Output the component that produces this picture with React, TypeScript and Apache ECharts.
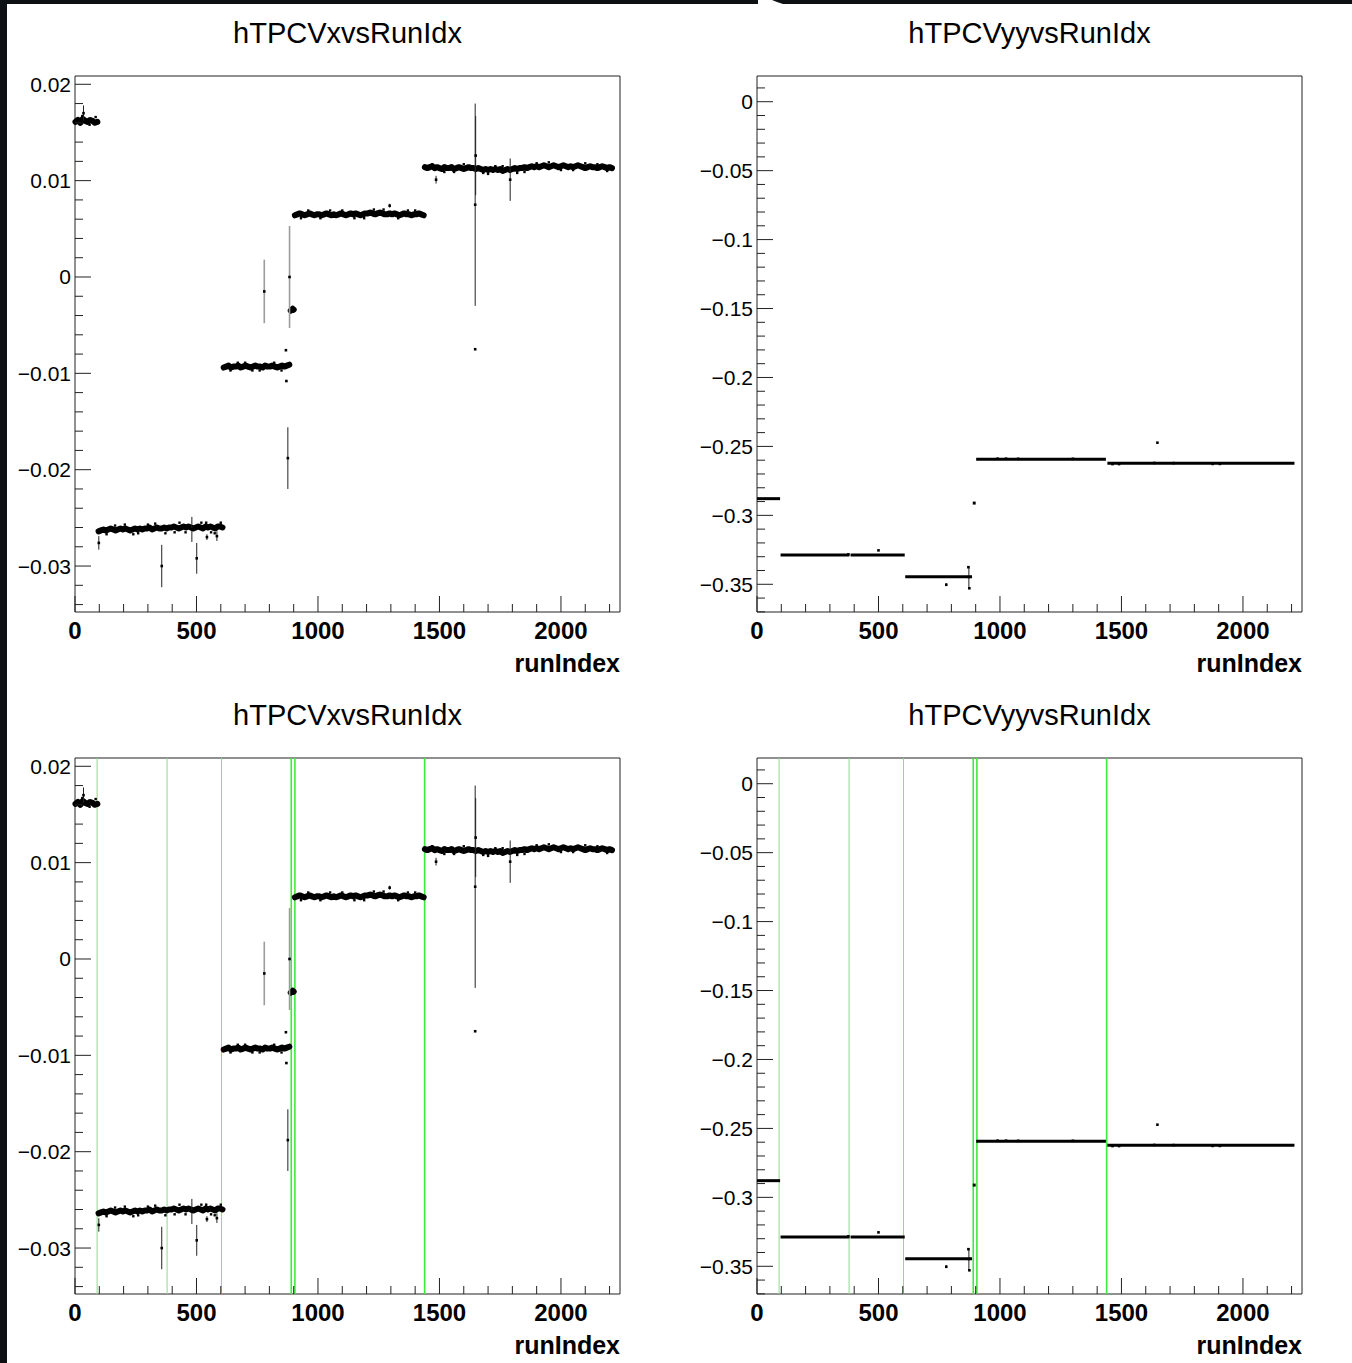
import React, { useEffect, useRef } from "react";
import * as echarts from "echarts";

// ---- axis ranges ----
const RUN_MAX = 2243;
const VX_RANGE = [-0.03477, 0.02086];
const VY_RANGE = [-0.3701, 0.01865];

// ---- tick labels ----
const xMajorTicks = [0, 500, 1000, 1500, 2000];
const xTickLabels = ["0", "500", "1000", "1500", "2000"];
const vxMajorTicks = [-0.03, -0.02, -0.01, 0, 0.01, 0.02];
const vxTickLabels = ["\u22120.03", "\u22120.02", "\u22120.01", "0", "0.01", "0.02"];
const vyMajorTicks = [-0.35, -0.3, -0.25, -0.2, -0.15, -0.1, -0.05, 0];
const vyTickLabels = ["\u22120.35", "\u22120.3", "\u22120.25", "\u22120.2", "\u22120.15", "\u22120.1", "\u22120.05", "0"];

// ---- TPC vertex x per run, in units of 1e-4, one sample every vxBlockStep runs ----
const vxBlockStart = [2, 97, 612, 888, 905, 1440];
const vxBlockStep = [10, 10, 10, 4, 10, 10];
const vxBlockA = [161, 163, 160, 164, 162, 161, 163, 162, 160, 161];
const vxBlockB = [
  -264, -263, -262, -263, -262, -261, -262, -263, -262, -261,
  -262, -261, -262, -263, -262, -261, -262, -261, -262, -261,
  -261, -260, -262, -261, -260, -261, -261, -260, -261, -260,
  -260, -259, -260, -261, -260, -259, -260, -259, -260, -261,
  -260, -259, -260, -261, -259, -260, -259, -260, -261, -259,
  -259, -260,
];
const vxBlockC = [
  -94, -93, -92, -94, -93, -93, -92, -94, -93, -92, -93, -94, -93, -92,
  -93, -93, -94, -92, -93, -93, -92, -93, -94, -93, -92, -93, -92, -91,
];
const vxBlockC2 = [-35, -34, -33, -34];
const vxBlockD = [
  64, 65, 66, 65, 64, 65, 66, 65, 64, 65,
  65, 64, 65, 66, 65, 64, 65, 64, 65, 66,
  65, 64, 65, 66, 65, 66, 65, 64, 65, 66,
  66, 67, 66, 65, 66, 67, 66, 65, 65, 66,
  65, 66, 65, 64, 65, 66, 65, 65, 64, 65,
  65, 66, 65, 64,
];
const vxBlockE = [
  114, 113, 114, 115, 113, 114, 113, 112, 114, 113,
  113, 114, 112, 113, 114, 113, 112, 113, 114, 113,
  113, 112, 113, 112, 111, 112, 111, 112, 111, 112,
  111, 112, 110, 111, 112, 111, 112, 113, 112, 113,
  113, 114, 113, 114, 115, 114, 115, 114, 115, 116,
  115, 114, 115, 116, 115, 114, 115, 116, 115, 114,
  115, 114, 115, 116, 115, 114, 113, 114, 115, 114,
  114, 113, 114, 115, 114, 113, 114, 113,
];
const vxBlocks = [vxBlockA, vxBlockB, vxBlockC, vxBlockC2, vxBlockD, vxBlockE];

// single runs scattered off the vx bands: [run, vx]
const vxStrays = [
  [30, 0.0167], [60, 0.0158], [85, 0.0166], [130, -0.0267], [165, -0.0258],
  [205, -0.0257], [240, -0.0267], [260, -0.0266], [300, -0.0257], [330, -0.0256],
  [372, -0.0266], [410, -0.0265], [430, -0.0255], [455, -0.0265], [520, -0.0255],
  [540, -0.0255], [560, -0.0265], [575, -0.0266], [600, -0.0255], [640, -0.0097],
  [670, -0.0089], [700, -0.0089], [730, -0.0097], [760, -0.0097], [820, -0.0089],
  [850, -0.0097], [930, 0.0061], [960, 0.0069], [1010, 0.0061], [1050, 0.0069],
  [1100, 0.0069], [1150, 0.0061], [1190, 0.0061], [1230, 0.0070], [1270, 0.0070],
  [1330, 0.0061], [1370, 0.0069], [1400, 0.0069], [1470, 0.0117], [1520, 0.0109],
  [1560, 0.0109], [1600, 0.0117], [1680, 0.0108], [1700, 0.0107], [1730, 0.0115],
  [1760, 0.0115], [1820, 0.0108], [1850, 0.0109], [1900, 0.0118], [1950, 0.0119],
  [2000, 0.0111], [2050, 0.0111], [2100, 0.0118], [2150, 0.0117], [2190, 0.0110],
];

// runs with a visible uncertainty: [run, vx, error, lightBar]
const vxErrorPoints = [
  [35, 0.017, 0.0008, 0],
  [98, -0.0276, 0.0007, 0],
  [357, -0.03, 0.0022, 0],
  [481, -0.0262, 0.0013, 0],
  [501, -0.0292, 0.0016, 0],
  [543, -0.027, 0.0003, 0],
  [584, -0.0269, 0.0005, 0],
  [779, -0.0015, 0.0033, 1],
  [868, -0.0076, 0, 0],
  [870, -0.0108, 0, 0],
  [876, -0.0188, 0.0032, 0],
  [883, 0.0, 0.0053, 1],
  [1295, 0.0074, 0.0002, 0],
  [1486, 0.0101, 0.0004, 0],
  [1647, 0.0075, 0.0105, 0],
  [1649, 0.0126, 0.0041, 0],
  [1647, -0.0075, 0, 0],
  [1791, 0.0101, 0.0022, 0],
];

// ---- TPC vertex y: constant per block ----
const vySegStart = [0, 97, 385, 610, 888, 902, 1442];
const vySegEnd = [95, 380, 608, 885, 900, 1436, 2212];
const vySegLevel = [-0.2879, -0.3288, -0.3288, -0.3445, -0.2911, -0.2594, -0.2623];

// [run, vy, error]
const vyPoints = [
  [376, -0.3283, 0], [500, -0.3254, 0], [779, -0.3503, 0.0011],
  [872, -0.3447, 0.0079], [874, -0.3529, 0], [870, -0.3376, 0],
  [990, -0.2589, 0], [1025, -0.2589, 0], [1075, -0.2590, 0], [1300, -0.2590, 0],
  [1463, -0.2628, 0], [1490, -0.2628, 0], [1635, -0.2620, 0], [1715, -0.2621, 0],
  [1875, -0.2627, 0], [1905, -0.2627, 0], [1648, -0.2473, 0],
];

// block boundaries marked on the lower pads
const boundaryRuns = [91, 379, 603, 890, 905, 1439];
const boundaryStrong = [0, 0, 0, 1, 1, 1];

// ---- layout ----
const PLOT_W = 545;
const PLOT_H = 536;
const FONT = "'Liberation Sans', Arial, Helvetica, sans-serif";
const pads = [
  { left: 75, top: 76, kind: "vx", title: "hTPCVxvsRunIdx", marks: false },
  { left: 757, top: 76, kind: "vy", title: "hTPCVyyvsRunIdx", marks: false },
  { left: 75, top: 758, kind: "vx", title: "hTPCVxvsRunIdx", marks: true },
  { left: 757, top: 758, kind: "vy", title: "hTPCVyyvsRunIdx", marks: true },
];

function minorTicks(lo: number, hi: number, step: number, majorEvery: number) {
  const out: number[] = [];
  const a = Math.ceil(lo / step - 1e-9);
  const b = Math.floor(hi / step + 1e-9);
  for (let k = a; k <= b; k++) {
    if (k % majorEvery !== 0) out.push(+(k * step).toFixed(6));
  }
  return out;
}

function errorSeries(on: any, pts: number[][]) {
  return {
    type: "custom",
    ...on,
    z: 6,
    data: pts,
    renderItem: (_: any, api: any) => {
      const x = api.value(0);
      const y = api.value(1);
      const e = api.value(2);
      const light = api.value(3) === 1;
      const c = api.coord([x, y]);
      const children: any[] = [];
      if (e > 0) {
        const hi = api.coord([x, y + e]);
        const lo = api.coord([x, y - e]);
        children.push({
          type: "line",
          shape: { x1: c[0], y1: hi[1], x2: c[0], y2: lo[1] },
          style: { stroke: light ? "#9c9c9c" : "#222", lineWidth: light ? 1.6 : 1 },
        });
      }
      children.push({
        type: "rect",
        shape: { x: c[0] - 1.3, y: c[1] - 1.3, width: 2.6, height: 2.6 },
        style: { fill: "#000" },
      });
      return { type: "group", children };
    },
  };
}

function buildOption() {
  const grid: any[] = [];
  const xAxis: any[] = [];
  const yAxis: any[] = [];
  const series: any[] = [];
  const graphic: any[] = [];

  const axisOff = {
    axisLine: { show: false },
    axisTick: { show: false },
    axisLabel: { show: false },
    splitLine: { show: false },
  };

  pads.forEach((p, i) => {
    const isVx = p.kind === "vx";
    const yr = isVx ? VX_RANGE : VY_RANGE;
    grid.push({
      left: p.left,
      top: p.top,
      width: PLOT_W,
      height: PLOT_H,
      show: true,
      borderColor: "#222",
      borderWidth: 1,
      backgroundColor: "transparent",
    });
    xAxis.push({ type: "value", gridIndex: i, min: 0, max: RUN_MAX, ...axisOff });
    yAxis.push({ type: "value", gridIndex: i, min: yr[0], max: yr[1], ...axisOff });

    const on = { xAxisIndex: i, yAxisIndex: i, silent: true, animation: false };

    // boundary markers
    if (p.marks) {
      series.push({
        type: "custom",
        ...on,
        z: 1,
        data: boundaryRuns.map((r, k) => [r, yr[0], boundaryStrong[k]]),
        renderItem: (_: any, api: any) => {
          const a = api.coord([api.value(0), yr[0]]);
          const b = api.coord([api.value(0), yr[1]]);
          const strong = api.value(2) === 1;
          return {
            type: "line",
            shape: { x1: a[0], y1: a[1], x2: b[0], y2: b[1] },
            style: { stroke: strong ? "#3cec3c" : "#8fd98f", lineWidth: strong ? 1.6 : 1 },
          };
        },
      });
    }

    if (isVx) {
      vxBlocks.forEach((blk, bi) => {
        series.push({
          type: "line",
          ...on,
          z: 3,
          symbol: "none",
          showSymbol: false,
          lineStyle: { color: "#000", width: 6, join: "round", cap: "round" },
          data: blk.map((v, k) => [vxBlockStart[bi] + k * vxBlockStep[bi], v * 1e-4]),
        });
      });
      series.push({
        type: "custom",
        ...on,
        z: 4,
        data: vxStrays,
        renderItem: (_: any, api: any) => {
          const c = api.coord([api.value(0), api.value(1)]);
          return { type: "rect", shape: { x: c[0] - 1.2, y: c[1] - 1.2, width: 2.4, height: 2.4 }, style: { fill: "#000" } };
        },
      });
      series.push(errorSeries(on, vxErrorPoints));
    } else {
      series.push({
        type: "custom",
        ...on,
        z: 3,
        data: vySegStart.map((s, k) => [s, vySegEnd[k], vySegLevel[k]]),
        renderItem: (_: any, api: any) => {
          const a = api.coord([api.value(0), api.value(2)]);
          const b = api.coord([api.value(1), api.value(2)]);
          return {
            type: "line",
            shape: { x1: a[0], y1: a[1], x2: b[0], y2: b[1] },
            style: { stroke: "#000", lineWidth: 3 },
          };
        },
      });
      series.push(errorSeries(on, vyPoints.map((q) => [q[0], q[1], q[2], 0])));
    }

    // y ticks and labels
    const yMaj = isVx ? vxMajorTicks : vyMajorTicks;
    const yLab = isVx ? vxTickLabels : vyTickLabels;
    const yMin = isVx ? minorTicks(yr[0], yr[1], 0.002, 5) : minorTicks(yr[0], yr[1], 0.01, 5);
    series.push({
      type: "custom",
      ...on,
      z: 5,
      data: [
        ...yMaj.map((v, k) => [0, v, 1, k]),
        ...yMin.map((v) => [0, v, 0, -1]),
      ],
      renderItem: (_: any, api: any) => {
        const v = api.value(1);
        const major = api.value(2) === 1;
        const c = api.coord([0, v]);
        const children: any[] = [
          {
            type: "line",
            shape: { x1: c[0], y1: c[1], x2: c[0] + (major ? 16 : 8), y2: c[1] },
            style: { stroke: "#222", lineWidth: 1 },
          },
        ];
        if (major) {
          children.push({
            type: "text",
            x: c[0] - 4,
            y: c[1],
            style: {
              text: yLab[api.value(3)],
              fill: "#000",
              font: `21px ${FONT}`,
              align: "right",
              verticalAlign: "middle",
            },
          });
        }
        return { type: "group", children };
      },
    });

    // x ticks and labels
    const xMin = minorTicks(0, RUN_MAX, 100, 5);
    series.push({
      type: "custom",
      ...on,
      z: 5,
      data: [
        ...xMajorTicks.map((v, k) => [v, yr[0], 1, k]),
        ...xMin.map((v) => [v, yr[0], 0, -1]),
      ],
      renderItem: (_: any, api: any) => {
        const v = api.value(0);
        const major = api.value(2) === 1;
        const c = api.coord([v, yr[0]]);
        const children: any[] = [
          {
            type: "line",
            shape: { x1: c[0], y1: c[1], x2: c[0], y2: c[1] - (major ? 16 : 8) },
            style: { stroke: "#222", lineWidth: 1 },
          },
        ];
        if (major) {
          children.push({
            type: "text",
            x: c[0],
            y: c[1] + 18,
            style: {
              text: xTickLabels[api.value(3)],
              fill: "#000",
              font: `bold 24px ${FONT}`,
              align: "center",
              verticalAlign: "middle",
            },
          });
        }
        return { type: "group", children };
      },
    });

    graphic.push({
      type: "text",
      x: p.left + PLOT_W / 2,
      y: p.top - 43,
      style: { text: p.title, fill: "#000", font: `29px ${FONT}`, align: "center", verticalAlign: "middle" },
    });
    graphic.push({
      type: "text",
      x: p.left + PLOT_W,
      y: p.top + PLOT_H + 51,
      style: { text: "runIndex", fill: "#000", font: `bold 25px ${FONT}`, align: "right", verticalAlign: "middle" },
    });
  });

  // dark window edge along the top and left
  graphic.push({ type: "rect", shape: { x: 0, y: 0, width: 758, height: 4 }, style: { fill: "#0d1114" } });
  graphic.push({
    type: "polygon",
    shape: { points: [[772, 0], [1352, 0], [1352, 4], [783, 4], [777, 2]] },
    style: { fill: "#0d1114" },
  });
  graphic.push({ type: "rect", shape: { x: 0, y: 0, width: 7, height: 1363 }, style: { fill: "#0d1114" } });

  return { animation: false, backgroundColor: "#fff", grid, xAxis, yAxis, series, graphic };
}

export default function App() {
  const ref = useRef<HTMLDivElement>(null);
  useEffect(() => {
    const chart = echarts.init(ref.current!, undefined, { renderer: "svg" });
    chart.setOption(buildOption() as any);
    return () => chart.dispose();
  }, []);
  return (
    <div
      ref={ref}
      style={{ position: "fixed", left: 0, top: 0, width: 1352, height: 1363, background: "#fff" }}
    />
  );
}
